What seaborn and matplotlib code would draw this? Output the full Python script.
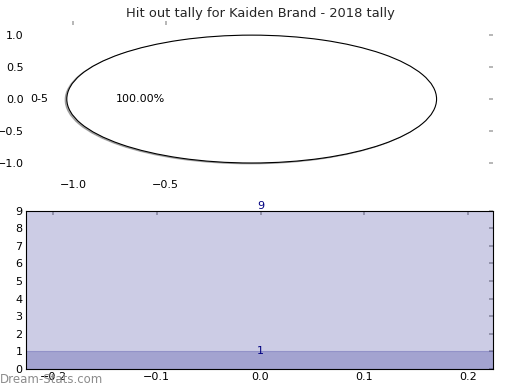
import matplotlib
matplotlib.use("Agg")
import matplotlib.pyplot as plt
import matplotlib.ticker as mticker
import seaborn as sns

# data
title = "Hit out tally for Kaiden Brand - 2018 tally"
pie_labels = ["0-5"]
pie_sizes = [1]
band_values = [9, 1]          # upper band (max) and the tally band
bottom_xticks = [-0.2, -0.1, 0.0, 0.1, 0.2]
pie_xticks = [-1.0, -0.5]
pie_yticks = [-1.0, -0.5, 0.0, 0.5, 1.0]

sns.set_style("white")
plt.rcParams['font.family'] = ['DejaVu Sans']
plt.rcParams['font.size'] = 10

fig = plt.figure(figsize=(6.5, 4.875), dpi=80)
ax_pie = fig.add_axes([0.052, 0.546, 0.896, 0.400])
ax_bar = fig.add_axes([0.050, 0.054, 0.898, 0.406])

# top: pie with a thin shadow, stretched to the axes
ax_pie.pie(pie_sizes, labels=pie_labels, autopct='%.2f%%',
           shadow={'ox': -0.008, 'oy': -0.012, 'shade': 0.6},
           colors=['white'], center=(-0.035, 0), radius=1.0,
           wedgeprops={'edgecolor': 'black', 'linewidth': 1.0},
           textprops={'color': 'black', 'fontsize': 10})
ax_pie.set_aspect('auto')
ax_pie.set_frame_on(False)
ax_pie.set_xlim(-1.25, 1.27)
ax_pie.set_ylim(-1.22, 1.22)
ax_pie.set_xticks(pie_xticks)
ax_pie.set_yticks(pie_yticks)
ax_pie.xaxis.set_major_formatter(mticker.ScalarFormatter())
ax_pie.yaxis.set_major_formatter(mticker.ScalarFormatter())
ax_pie.set_title(title, fontsize=11.7, pad=4)

# bottom: two translucent bands
for i, v in enumerate(band_values):
    edge = 'navy' if i == len(band_values) - 1 else 'none'
    sns.barplot(x=[0], y=[v], color='navy', saturation=1, width=1,
                alpha=0.2, edgecolor=edge, linewidth=1.0, ax=ax_bar)
    va = 'bottom' if v == max(band_values) else 'center'
    ax_bar.text(0, v, str(v), color='navy', ha='center', va=va, fontsize=10)

ax_bar.set_xticks(bottom_xticks)
ax_bar.xaxis.set_major_formatter(mticker.ScalarFormatter())
ax_bar.set_xlim(-0.226, 0.224)
ax_bar.set_ylim(0, 9)
ax_bar.set_yticks(range(0, 10))
ax_bar.set_xlabel('')
ax_bar.set_ylabel('')
for s in ax_bar.spines.values():
    s.set_visible(True)
    s.set_color('black')
    s.set_linewidth(1.0)

for ax in (ax_pie, ax_bar):
    ax.tick_params(direction='in', length=4, width=1.5, color='#aaaaaa',
                   top=True, right=True, labelsize=10, pad=3,
                   labelcolor='black')

fig.text(0.0, 0.01, "Dream-Stats.com", color='#8c8c8c', fontsize=10.6,
         ha='left', va='bottom')

fig.savefig("out.png", dpi=80)
